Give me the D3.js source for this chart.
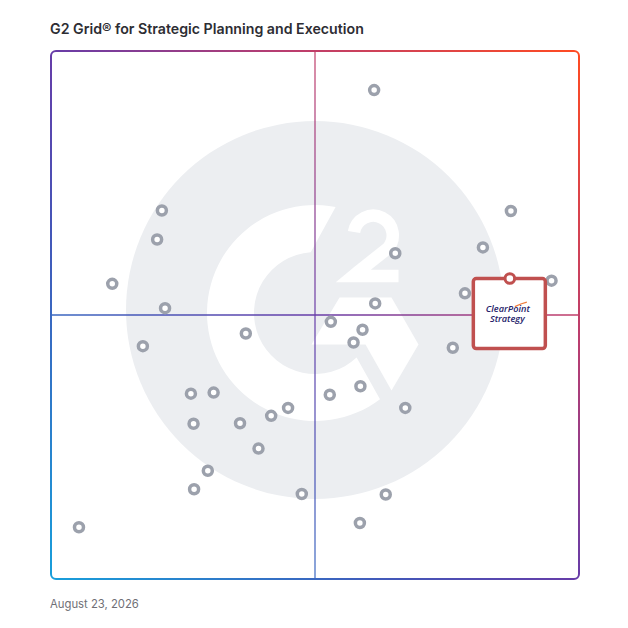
<!DOCTYPE html>
<meta charset="utf-8">
<head>
	<title>G2 Grid</title>
	<script type="text/javascript" src="https://cdn.jsdelivr.net/npm/d3@7/dist/d3.min.js"></script>
	<style>
		body { margin: 0; background: #fff; }
		.title { font-family: Inter, sans-serif; font-weight: 600; font-size: 14.2px; fill: #2d2d33; }
		.date { font-family: Inter, sans-serif; font-size: 11.3px; fill: #6f6f76; }
		.vendor { fill: #fff; stroke: #9ca1ac; stroke-width: 3.5; }
		.brand { font-family: "Open Sans", sans-serif; font-style: italic; font-weight: 600; font-size: 9.2px; fill: #25226a; }
	</style>
</head>
<body>
	<div id="grid"></div>
	<script>
		// chart data (x = satisfaction, y = market presence, 0-100)
		var vendorX = [61.2, 21.0, 20.1, 87.1, 81.8, 65.2, 11.6, 94.8, 78.4, 61.4, 21.6,
			53.0, 59.0, 57.3, 36.9, 17.4, 76.1, 26.5, 30.8, 58.6, 52.8, 67.1,
			44.9, 41.7, 27.0, 35.8, 39.3, 29.7, 27.1, 47.5, 63.4, 58.5, 5.3];
		var vendorY = [92.6, 69.8, 64.3, 69.7, 62.8, 61.7, 55.9, 56.5, 54.1, 52.2, 51.3,
			48.7, 47.2, 44.8, 46.5, 44.1, 43.8, 35.1, 35.3, 36.5, 34.9, 32.4,
			32.4, 30.9, 29.4, 29.5, 24.7, 20.5, 17.0, 16.1, 16.0, 10.6, 9.8];
		var featured = { name: "ClearPoint Strategy", x: 86.9, y: 56.9 };
		var titleText = "G2 Grid\u00ae for Strategic Planning and Execution";
		var dateText = "August 23, 2026";

		var width = 628, height = 628;
		var gridLeft = 51, gridTop = 51, gridSize = 528;

		var svg = d3.select("#grid").append("svg")
			.attr("width", width)
			.attr("height", height);

		var x = d3.scaleLinear().domain([0, 100]).range([gridLeft, gridLeft + gridSize]);
		var y = d3.scaleLinear().domain([0, 100]).range([gridTop + gridSize, gridTop]);

		// border gradient: cyan bottom-left -> purple -> orange top-right
		var defs = svg.append("defs");
		var grad = defs.append("linearGradient")
			.attr("id", "frameGrad")
			.attr("gradientUnits", "userSpaceOnUse")
			.attr("x1", x(0)).attr("y1", y(0))
			.attr("x2", x(100)).attr("y2", y(100));
		[[0, "#189fdb"], [0.33, "#4456b8"], [0.5, "#673ca8"], [0.72, "#b93d70"], [1, "#ff4b22"]]
			.forEach(function (s) {
				grad.append("stop").attr("offset", s[0]).attr("stop-color", s[1]);
			});

		svg.append("text")
			.attr("class", "title")
			.attr("x", 50).attr("y", 34)
			.text(titleText);

		// G2 watermark
		var cx = x(50), cy = y(50);
		var logo = svg.append("g");
		logo.append("circle")
			.attr("cx", cx).attr("cy", cy - 5)
			.attr("r", 189)
			.attr("fill", "#eceef1");

		var rc = [cx, cy - 2], rOut = 108, rIn = 61;
		function pt(r, deg) {
			var a = deg * Math.PI / 180;
			return [rc[0] + r * Math.cos(a), rc[1] + r * Math.sin(a)];
		}
		var o1 = pt(rOut, -79), o2 = pt(rOut, 53), i2 = pt(rIn, 47), i1 = pt(rIn, -94);
		logo.append("path")
			.attr("fill", "#fff")
			.attr("d", "M" + o1 + " A" + rOut + "," + rOut + " 0 1 0 " + o2 +
				" L" + i2 + " A" + rIn + "," + rIn + " 0 1 1 " + i1 + "Z");

		// chevron
		var chev = [[339.5, 297.5], [391.5, 297.5], [418.5, 344.5], [391.5, 390.5], [365.5, 344.5], [311.5, 344.5]];
		logo.append("path")
			.attr("fill", "#fff")
			.attr("d", d3.line()(chev.map(function (p) { return [p[0] + cx - 315, p[1] + cy - 315]; })) + "Z");

		// superscript 2
		logo.append("path")
			.attr("fill", "none")
			.attr("stroke", "#fff")
			.attr("stroke-width", 12.5)
			.attr("stroke-linejoin", "miter")
			.attr("d", "M354,232 A19.5,19.5 0 1 1 387,249 L359,271 L353,276 L398.5,276");

		// quadrant lines
		svg.append("line")
			.attr("x1", x(0)).attr("x2", x(100))
			.attr("y1", y(50)).attr("y2", y(50))
			.attr("stroke", "url(#frameGrad)")
			.attr("stroke-width", 1.6);
		svg.append("line")
			.attr("x1", x(50)).attr("x2", x(50))
			.attr("y1", y(0)).attr("y2", y(100))
			.attr("stroke", "url(#frameGrad)")
			.attr("stroke-opacity", 0.75)
			.attr("stroke-width", 1.6);

		// frame
		svg.append("rect")
			.attr("x", x(0)).attr("y", y(100))
			.attr("width", gridSize).attr("height", gridSize)
			.attr("rx", 5)
			.attr("fill", "none")
			.attr("stroke", "url(#frameGrad)")
			.attr("stroke-width", 2);

		// vendors
		svg.selectAll(".vendor")
			.data(d3.range(vendorX.length))
			.enter()
			.append("circle")
			.attr("class", "vendor")
			.attr("cx", function (i) { return x(vendorX[i]); })
			.attr("cy", function (i) { return y(vendorY[i]); })
			.attr("r", 4.5);

		// featured vendor with logo box
		var fx = x(featured.x), fy = y(featured.y);
		var box = svg.append("g");
		box.append("rect")
			.attr("x", fx - 36.5).attr("y", fy)
			.attr("width", 72).attr("height", 70)
			.attr("rx", 3)
			.attr("fill", "#fff")
			.attr("stroke", "#c0504f")
			.attr("stroke-width", 3.5);
		box.append("path")
			.attr("d", "M" + (fx + 5) + "," + (fy + 28) + " Q" + (fx + 11) + "," + (fy + 25) + " " + (fx + 17) + "," + (fy + 23.5))
			.attr("fill", "none")
			.attr("stroke", "#f07c3a")
			.attr("stroke-width", 1.3);
		box.append("text")
			.attr("class", "brand")
			.attr("x", fx - 2).attr("y", fy + 33.5)
			.attr("text-anchor", "middle")
			.text("ClearPoint");
		box.append("text")
			.attr("class", "brand")
			.attr("x", fx - 2.5).attr("y", fy + 43)
			.attr("text-anchor", "middle")
			.text("Strategy");
		box.append("circle")
			.attr("cx", fx).attr("cy", fy)
			.attr("r", 4.8)
			.attr("fill", "#fff")
			.attr("stroke", "#c0504f")
			.attr("stroke-width", 3);

		svg.append("text")
			.attr("class", "date")
			.attr("x", 50).attr("y", 608)
			.text(dateText);
	</script>
</body>
</html>
